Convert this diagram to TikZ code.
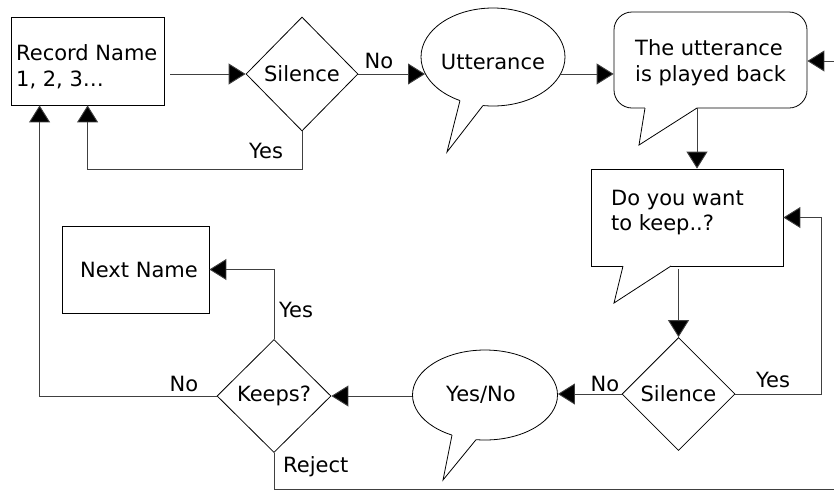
\documentclass[tikz,border=0pt]{standalone}
\usepackage{fontspec}
\setmainfont{DejaVu Sans}
\usetikzlibrary{arrows.meta,shapes.geometric,calc}
\begin{document}
\begin{tikzpicture}[x=1pt,y=-1pt,
  font=\fontsize{21}{26}\selectfont,
  shp/.style={draw=black, line width=0.8pt, fill=white, inner sep=0pt},
  conn/.style={draw=black!75, line width=0.9pt, -{Triangle[length=17pt,width=21pt,fill=black]}},
  plain/.style={draw=black!75, line width=0.9pt},
  ptr/.style={draw=black, line width=0.8pt},
  lbl/.style={inner sep=0pt}]
\useasboundingbox (0,0) rectangle (834,491);

% Record Name box
\node[shp, minimum width=153pt, minimum height=88pt] (rec) at (87.5,61) {};
\node[lbl, anchor=base west] (rec1) at (16,60) {Record Name};
\node[lbl, anchor=base west] (rec2) at (16,86) {1, 2, 3…};

% Silence 1
\node[shp, diamond, minimum width=112pt, minimum height=114pt] (s1) at (302,74) {Silence};

% Utterance ellipse callout
\node[shp, ellipse, minimum width=144pt, minimum height=98pt] (utt) at (493,57) {};
\fill[white] (460,100.5) -- (447,152) -- (483,105.5) -- (483,100) -- (460,95) -- cycle;
\draw[ptr] (460,100.5) -- (447,152) -- (483,105.5);
\node[lbl] (uttt) at (493,62) {Utterance};

% Played back callout
\node[shp, rounded corners=18pt, minimum width=193pt, minimum height=96pt] (pb) at (710.5,60) {};
\fill[white] (645,108) -- (639,145) -- (697,108) -- (697,104) -- (645,104) -- cycle;
\draw[ptr] (645,108) -- (639,145) -- (697,108);
\node[lbl, anchor=base west] (pb1) at (635,55) {The utterance};
\node[lbl, anchor=base west] (pb2) at (635,81) {is played back};

% Do you want callout
\node[shp, minimum width=192pt, minimum height=97pt] (dy) at (687,217.5) {};
\fill[white] (623,266) -- (614,303) -- (671,266) -- (671,262) -- (623,262) -- cycle;
\draw[ptr] (623,266) -- (614,303) -- (671,266);
\node[lbl, anchor=base west] (dy1) at (611,205) {Do you want};
\node[lbl, anchor=base west] (dy2) at (611,230) {to keep..?};

% Silence 2
\node[shp, diamond, minimum width=113pt, minimum height=113pt] (s2) at (678.5,394) {Silence};

% Yes/No ellipse callout
\node[shp, ellipse, minimum width=145pt, minimum height=90pt] (yn) at (485,395) {};
\fill[white] (452,435.1) -- (443,480) -- (476,439.7) -- (476,434) -- (452,430) -- cycle;
\draw[ptr] (452,435.1) -- (443,480) -- (476,439.7);
\node[lbl] (ynt) at (481,395) {Yes/No};

% Keeps
\node[shp, diamond, minimum width=114pt, minimum height=113pt] (kp) at (274,396) {Keeps?};

% Next Name
\node[shp, minimum width=147pt, minimum height=87pt] (nn) at (135.5,269.5) {};
\node[lbl] (nnt) at (139,270) {Next Name};

% free ends at the picture edge
\coordinate (rin) at (834,61);
\coordinate (rout) at (834,489);

% connectors
\draw[conn] ([xshift=6pt]rec.east |- s1.west) -- (s1.west);
\draw[conn] (s1.east) -- (s1.east -| utt.194);
\draw[conn] (utt.-14) -- (utt.-14 -| pb.west);
\draw[conn] (rin) -- (rin -| pb.east);
\draw[conn] ([xshift=-13.5pt]pb.south) -- ([xshift=-13.5pt]pb.south |- dy.north);
\draw[conn] ([yshift=-3pt]dy.south -| s2.north) -- (s2.north);
\draw[conn] (s2.east) -| ([xshift=38pt]dy.east) -- (dy.east);
\draw[conn] (s2.west) -- (s2.west -| yn.east);
\draw[conn] (yn.west |- kp.east) -- (kp.east);
\draw[conn] (kp.north) |- (nn.east);
\draw[conn] (kp.west) -| ([xshift=29pt]rec.south west);
\draw[plain] (kp.south) |- (rout);
\draw[conn] (s1.south) -- ++(0,38) -| ([xshift=77pt]rec.south west);

% labels
\node[lbl] (lno1) at (379,61) {No};
\node[lbl] (lyes1) at (266,151) {Yes};
\node[lbl] (lno2) at (605,384) {No};
\node[lbl] (lyes2) at (773,380) {Yes};
\node[lbl] (lyes3) at (296,310) {Yes};
\node[lbl] (lno3) at (184,384) {No};
\node[lbl, anchor=base west] (lrej) at (283,472) {Reject};
\end{tikzpicture}
\end{document}
